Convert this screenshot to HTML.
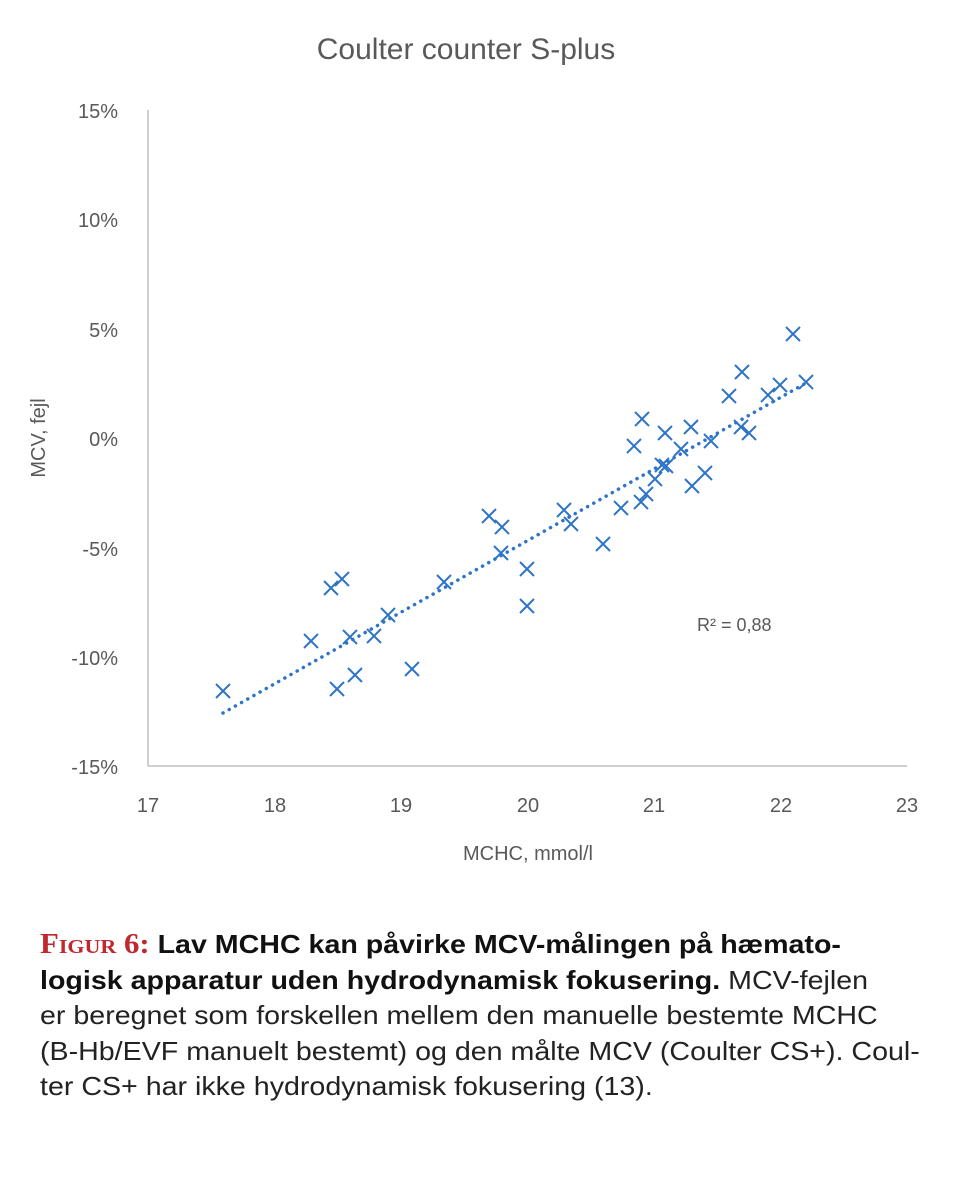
<!DOCTYPE html>
<html><head><meta charset="utf-8"><style>
body{margin:0;background:#fff;width:960px;height:1184px;overflow:hidden}
.cap{position:absolute;left:40px;top:927px;width:800px;font-family:"Liberation Sans",sans-serif;font-size:26px;line-height:35.5px;color:#222;transform:scaleX(1.1);transform-origin:0 0;white-space:nowrap}
.cap b{color:#111}
.fig{color:#c0282d;font-family:"Liberation Serif",serif;font-weight:bold;font-variant:small-caps;font-size:28px}
</style></head><body>
<svg width="960" height="920" style="position:absolute;left:0;top:0" font-family="Liberation Sans,sans-serif">
<text x="466" y="59" text-anchor="middle" font-size="30" fill="#595959">Coulter counter S-plus</text>
<line x1="148" y1="110" x2="148" y2="766" stroke="#bfbfbf" stroke-width="1.5"/>
<line x1="148" y1="766" x2="907" y2="766" stroke="#bfbfbf" stroke-width="1.5"/>
<g font-size="20" fill="#595959" text-anchor="end">
<text x="118" y="118">15%</text><text x="118" y="227">10%</text><text x="118" y="337">5%</text>
<text x="118" y="446">0%</text><text x="118" y="556">-5%</text><text x="118" y="665">-10%</text><text x="118" y="774">-15%</text>
</g>
<g font-size="20" fill="#595959" text-anchor="middle">
<text x="148" y="812">17</text><text x="275" y="812">18</text><text x="401" y="812">19</text><text x="528" y="812">20</text>
<text x="654" y="812">21</text><text x="781" y="812">22</text><text x="907" y="812">23</text>
</g>
<text x="528" y="860" text-anchor="middle" font-size="20" fill="#595959">MCHC, mmol/l</text>
<text transform="translate(45,438) rotate(-90)" text-anchor="middle" font-size="20" fill="#595959">MCV, fejl</text>
<text x="697" y="631" font-size="18" fill="#595959">R² = 0,88</text>
<line x1="223" y1="713" x2="806" y2="383" stroke="#2e75c8" stroke-width="3.5" stroke-dasharray="0.1 7" stroke-linecap="round"/>
<g stroke="#2e75c8" stroke-width="2" fill="none" id="pts"></g>
</svg>
<div class="cap"><span class="fig">Figur 6:</span> <b>Lav MCHC kan påvirke MCV-målingen på hæmato-<br>logisk apparatur uden hydrodynamisk fokusering.</b> MCV-fejlen<br>er beregnet som forskellen mellem den manuelle bestemte MCHC<br>(B-Hb/EVF manuelt bestemt) og den målte MCV (Coulter CS+). Coul-<br>ter CS+ har ikke hydrodynamisk fokusering (13).</div>
<script>
var p=[[223,691],[311,641],[331,588],[342,579],[337,689],[350,637],[355,675],[374,636],[388,615],[412,669],[444,582],[489,516],[502,527],[501,553],[527,569],[527,606],[564,510],[571,524],[603,544],[621,508],[634,446],[642,419],[641,502],[646,494],[655,479],[662,465],[665,433],[666,466],[681,449],[691,427],[692,486],[705,473],[711,441],[729,396],[742,372],[741,427],[749,433],[768,395],[780,385],[793,334],[806,382]];
var g=document.getElementById('pts'),s='';
p.forEach(function(a){var x=a[0],y=a[1],r=7;s+='<path d="M'+(x-r)+' '+(y-r)+'L'+(x+r)+' '+(y+r)+'M'+(x-r)+' '+(y+r)+'L'+(x+r)+' '+(y-r)+'"/>';});
g.innerHTML=s;
</script>
</body></html>
